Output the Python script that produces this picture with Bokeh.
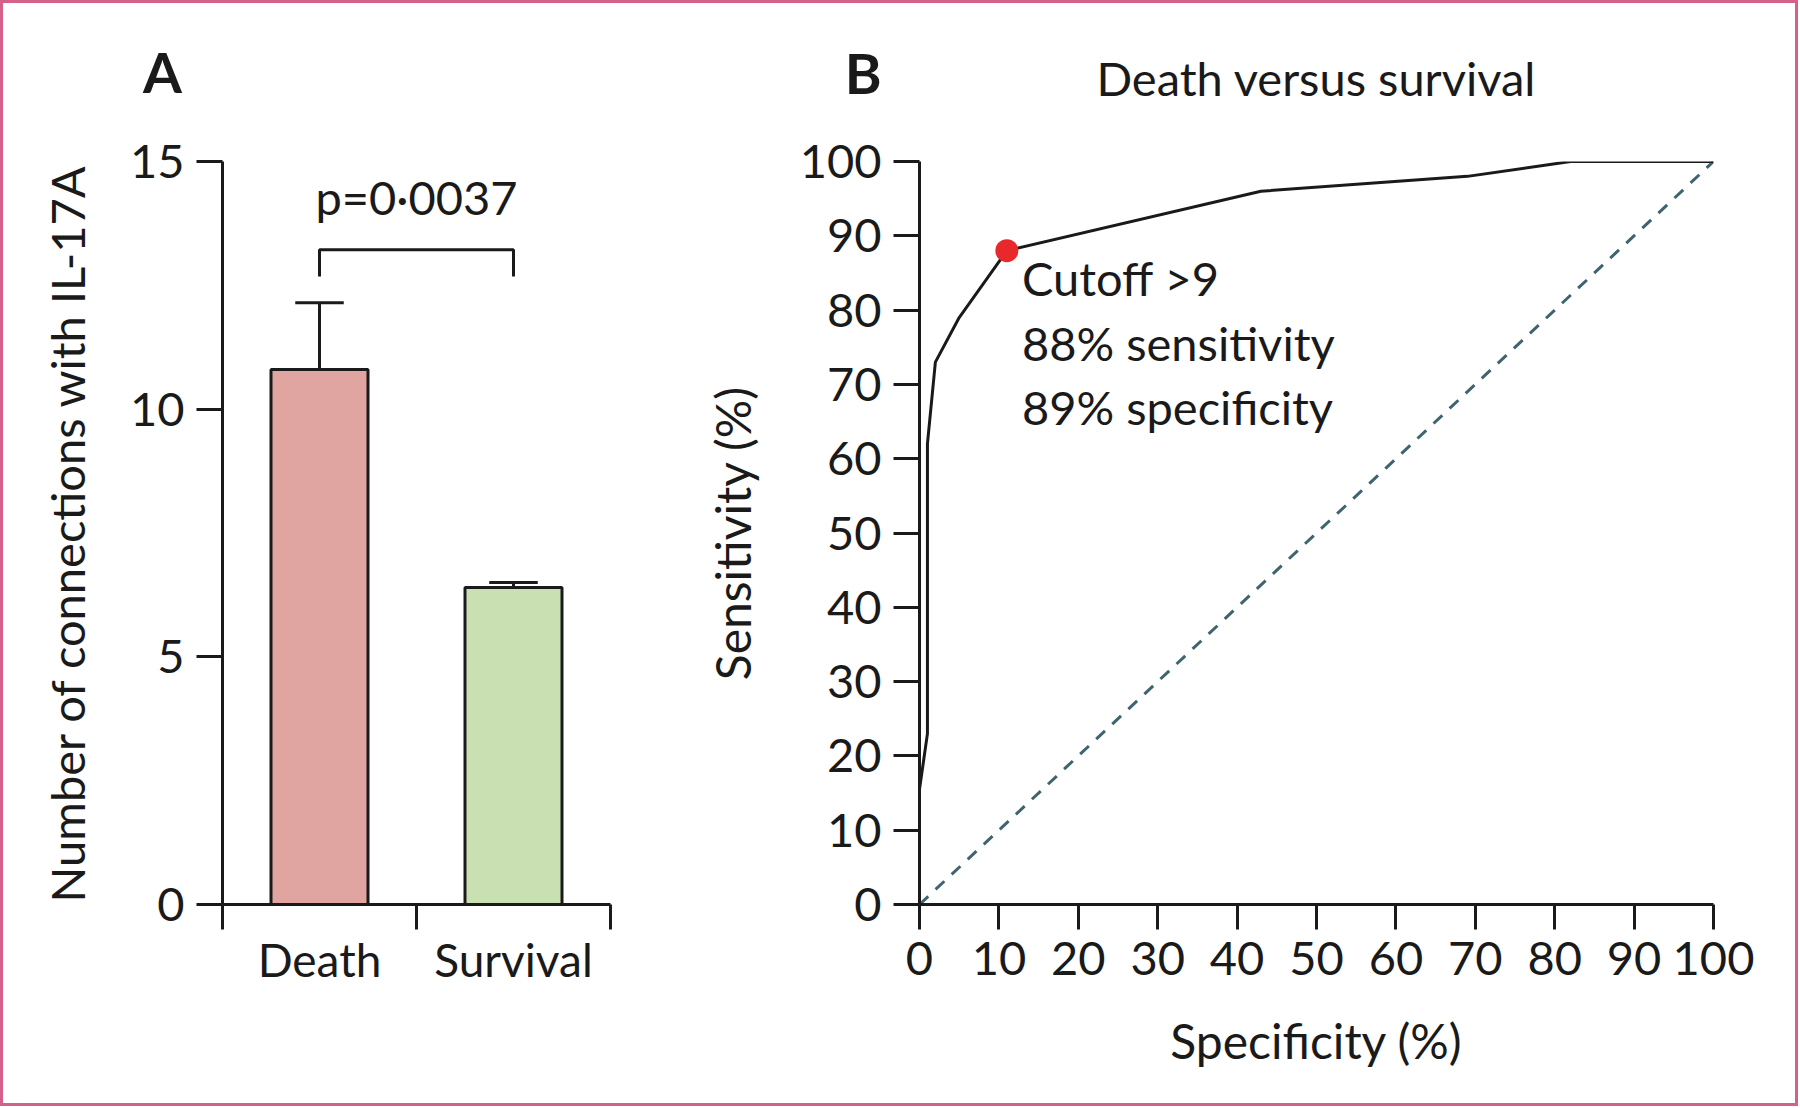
from bokeh.plotting import figure
from bokeh.layouts import row
from bokeh.models import FixedTicker, Label, Range1d
from bokeh.core.properties import value
from bokeh.embed import file_html
from bokeh.resources import INLINE

# ---------------- data ----------------
categories = ["Death", "Survival"]
means = [10.8, 6.4]
upper = [12.15, 6.5]
bar_colors = ["#E0A5A0", "#C9E0B2"]
y_ticks_a = [0, 5, 10, 15]
p_value_text = "p=0·0037"
bracket_top = 13.22
bracket_leg = 12.68
p_text_y = 14.28

roc_x = [0, 0, 1, 1, 2, 5, 11, 43, 69, 82, 100]
roc_y = [0, 15.5, 23, 62, 73, 79, 88, 96, 98, 100, 100]
cutoff_x = [11]
cutoff_y = [88]
chance_x = [0, 100]
chance_y = [0, 100]
roc_ticks = list(range(0, 101, 10))
annotation_lines = ["Cutoff >9", "88% sensitivity", "89% specificity"]
annotation_y = [84.3, 75.6, 66.9]
annotation_x = 12.9
title_b = "Death versus survival"

FONT = "Lato"
INK = "#1a1a1a"
TICK_FS = "47px"
LABEL_FS = "47px"


def style_axes(p):
    for ax in (p.xaxis[0], p.yaxis[0]):
        ax.axis_line_width = 3
        ax.axis_line_color = INK
        ax.major_tick_line_width = 3
        ax.major_tick_line_color = INK
        ax.minor_tick_line_width = 3
        ax.minor_tick_line_color = INK
        ax.major_tick_in = 0
        ax.major_tick_out = 26
        ax.minor_tick_in = 0
        ax.minor_tick_out = 0
        ax.major_label_text_font = FONT
        ax.major_label_text_font_size = TICK_FS
        ax.major_label_text_color = INK
        ax.major_label_standoff = 12
        ax.axis_label_text_font = FONT
        ax.axis_label_text_font_size = LABEL_FS
        ax.axis_label_text_font_style = "normal"
        ax.axis_label_text_color = INK
    p.xgrid.visible = False
    p.ygrid.visible = False
    p.outline_line_color = None
    p.background_fill_color = "white"
    p.border_fill_color = "white"


def panel_letter(p, x, y, text):
    p.add_layout(Label(x=x, y=y, text=text, text_align="center",
                       text_baseline="middle", text_font=FONT, text_font_size="56px",
                       text_font_style="bold", text_color=INK), "above")


H = 1100

# ---------------- panel A ----------------
n = len(categories)
xc = [i + 0.5 for i in range(n)]
p1 = figure(width=697, height=H, output_backend="svg", toolbar_location=None,
            x_range=Range1d(0, n), y_range=Range1d(0, y_ticks_a[-1]),
            min_border_left=219, min_border_right=90, min_border_top=158,
            min_border_bottom=199)
style_axes(p1)
p1.yaxis.ticker = FixedTicker(ticks=y_ticks_a)
p1.xaxis.ticker = FixedTicker(ticks=xc, minor_ticks=list(range(n + 1)))
p1.xaxis.major_tick_out = 0
p1.xaxis.minor_tick_out = 25
p1.xaxis.major_label_standoff = 2
p1.xaxis.major_label_overrides = {x: c for x, c in zip(xc, categories)}
p1.xaxis.major_label_text_font_size = "46px"
p1.yaxis.axis_label = "Number of connections with IL-17A"
p1.yaxis.axis_label_standoff = 32

# error bars
p1.segment(x0=xc, y0=means, x1=xc, y1=upper, line_color=INK, line_width=3)
p1.segment(x0=[x - 0.125 for x in xc], y0=upper, x1=[x + 0.125 for x in xc], y1=upper,
           line_color=INK, line_width=3)
p1.vbar(x=xc, top=means, bottom=0, width=0.5, fill_color=bar_colors,
        line_color=INK, line_width=3)
# significance bracket
p1.line(x=[xc[0], xc[0], xc[1], xc[1]], y=[bracket_leg, bracket_top, bracket_top, bracket_leg],
        line_color=INK, line_width=3)
p1.text(x=[(xc[0] + xc[1]) / 2], y=[p_text_y], text=[p_value_text], text_align="center",
        text_baseline="alphabetic", text_font=value(FONT), text_font_size=LABEL_FS,
        text_color=INK)
panel_letter(p1, -0.31, 16.82, "A")

# ---------------- panel B ----------------
p2 = figure(width=1095, height=H, output_backend="svg", toolbar_location=None,
            x_range=Range1d(0, 100), y_range=Range1d(0, 100),
            min_border_left=218, min_border_right=82, min_border_top=158,
            min_border_bottom=199)
style_axes(p2)
p2.xaxis.ticker = FixedTicker(ticks=roc_ticks)
p2.yaxis.ticker = FixedTicker(ticks=roc_ticks)
p2.xaxis.major_tick_out = 25
p2.xaxis.axis_label = "Specificity (%)"
p2.yaxis.axis_label = "Sensitivity (%)"
p2.xaxis.axis_label_text_font_size = "48px"
p2.yaxis.axis_label_text_font_size = "48px"
p2.xaxis.axis_label_standoff = 34
p2.yaxis.axis_label_standoff = 36

p2.line(x=chance_x, y=chance_y, line_color="#3F6470", line_width=3, line_dash="12 10")
p2.line(x=roc_x, y=roc_y, line_color=INK, line_width=3, line_join="round")
p2.scatter(x=cutoff_x, y=cutoff_y, size=23, fill_color="#E8282A", line_color=None)
p2.text(x=[annotation_x] * len(annotation_lines), y=annotation_y, text=annotation_lines,
        text_align="left", text_baseline="alphabetic", text_font=value(FONT),
        text_font_size=LABEL_FS, text_color=INK)
panel_letter(p2, -7.1, 112.0, "B")
p2.add_layout(Label(x=50, y=111.3, text=title_b, text_align="center",
                    text_baseline="middle", text_font=FONT, text_font_size=LABEL_FS,
                    text_color=INK), "above")

layout = row(p1, p2)
layout.styles = {"border": "3px solid #D4618A"}

open("out.html", "w").write(file_html(layout, INLINE))
